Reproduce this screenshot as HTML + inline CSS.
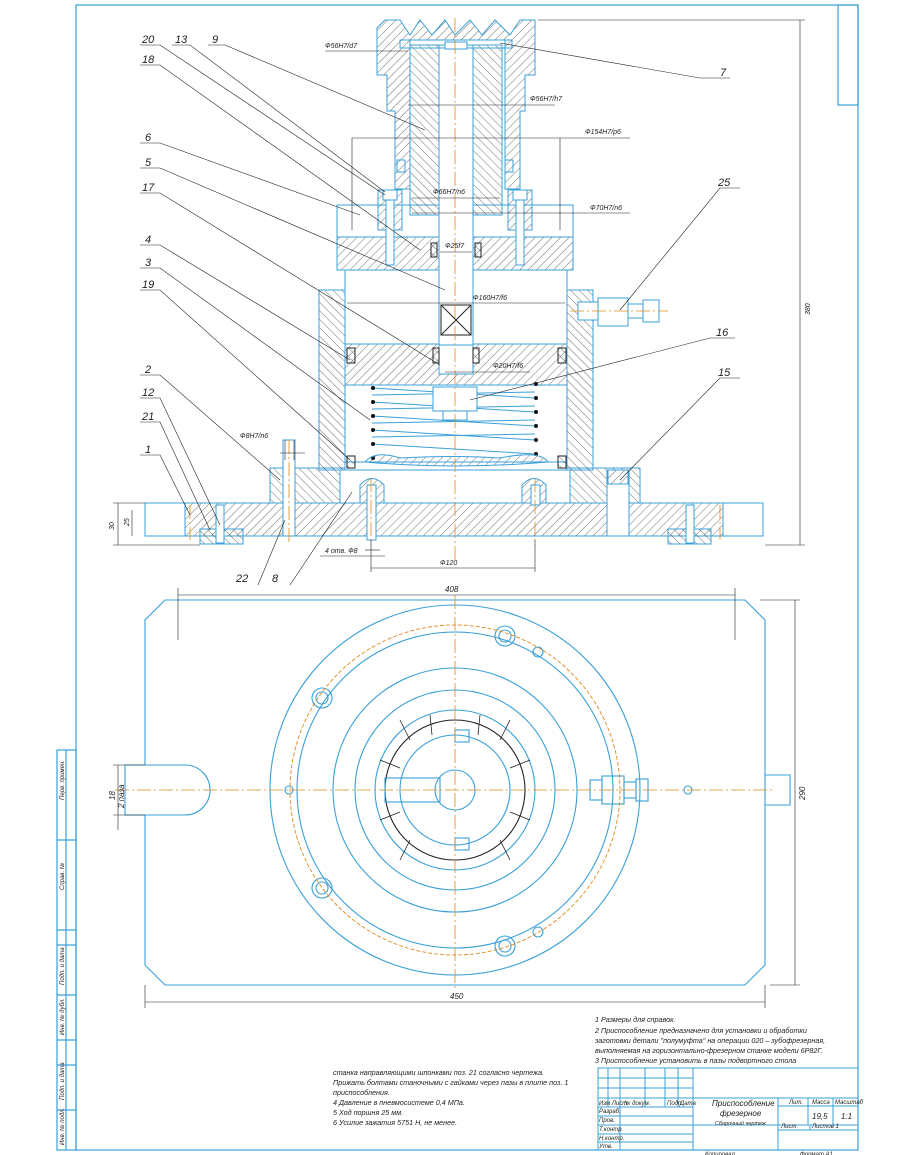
<!DOCTYPE html>
<html><head><meta charset="utf-8"><style>
html,body{margin:0;padding:0;background:#fff}
svg{display:block}
text{font-family:"Liberation Sans","DejaVu Sans",sans-serif;font-style:italic;fill:#222}
</style></head><body>
<svg width="910" height="1155" viewBox="0 0 910 1155" xmlns="http://www.w3.org/2000/svg">
<defs>
<pattern id="h" patternUnits="userSpaceOnUse" width="6" height="6" patternTransform="rotate(45)"><line x1="0" y1="0" x2="0" y2="6" stroke="#333" stroke-width="0.7"/></pattern>
<pattern id="h2" patternUnits="userSpaceOnUse" width="6" height="6" patternTransform="rotate(-45)"><line x1="0" y1="0" x2="0" y2="6" stroke="#333" stroke-width="0.7"/></pattern>
</defs>
<rect width="910" height="1155" fill="#fff"/>
<!-- frame -->
<g fill="none" stroke="#3aa0d8" stroke-width="1.2">
<rect x="76" y="5" width="782" height="1145"/>
<rect x="838" y="5" width="20" height="100"/>
<rect x="57" y="750" width="19" height="400"/>
<line x1="66" y1="750" x2="66" y2="1150"/>
<line x1="57" y1="840" x2="76" y2="840"/><line x1="57" y1="930" x2="76" y2="930"/><line x1="57" y1="945" x2="76" y2="945"/>
<line x1="57" y1="995" x2="76" y2="995"/><line x1="57" y1="1040" x2="76" y2="1040"/><line x1="57" y1="1065" x2="76" y2="1065"/><line x1="57" y1="1110" x2="76" y2="1110"/>
</g>
<g font-size="6" fill="#333"><text transform="translate(64,800) rotate(-90)">Перв. примен.</text><text transform="translate(64,890) rotate(-90)">Справ. №</text><text transform="translate(64,985) rotate(-90)">Подп. и дата</text><text transform="translate(64,1035) rotate(-90)">Инв. № дубл.</text><text transform="translate(64,1100) rotate(-90)">Подп. и дата</text><text transform="translate(64,1145) rotate(-90)">Инв. № подл.</text></g>

<!-- ===== SECTION VIEW ===== -->
<!-- base plate -->
<rect x="145" y="503" width="618" height="33" fill="url(#h)" stroke="#3aa0d8"/>
<rect x="145" y="503" width="40" height="33" fill="#fff" stroke="#3aa0d8"/>
<rect x="723" y="503" width="40" height="33" fill="#fff" stroke="#3aa0d8"/>
<rect x="200" y="529" width="43" height="15" fill="url(#h2)" stroke="#3aa0d8"/>
<rect x="668" y="529" width="43" height="15" fill="url(#h2)" stroke="#3aa0d8"/>
<rect x="216" y="505" width="8" height="38" fill="#fff" stroke="#3aa0d8"/>
<rect x="686" y="505" width="8" height="38" fill="#fff" stroke="#3aa0d8"/>
<!-- flange 2 -->
<rect x="270" y="468" width="370" height="35" fill="url(#h2)" stroke="#3aa0d8"/>
<rect x="340" y="470" width="230" height="33" fill="#fff" stroke="#3aa0d8"/>
<rect x="283" y="440" width="12" height="96" fill="#fff" stroke="#3aa0d8"/>
<rect x="607" y="470" width="22" height="66" fill="#fff" stroke="#3aa0d8"/>
<rect x="608" y="470" width="20" height="14" fill="url(#h)" stroke="#3aa0d8"/>
<!-- base lugs 8 -->
<path d="M360 503 V485 Q372 472 384 485 V503Z M522 503 V485 Q534 472 546 485 V503Z" fill="url(#h)" stroke="#3aa0d8"/>
<rect x="367" y="485" width="9" height="55" fill="#fff" stroke="#3aa0d8"/>
<rect x="531" y="485" width="9" height="20" fill="#fff" stroke="#3aa0d8"/>
<!-- body -->
<path d="M319 290 H345 V470 H319Z M567 290 H593 V470 H567Z" fill="url(#h2)" stroke="#3aa0d8"/>
<rect x="337" y="237" width="236" height="33" fill="url(#h)" stroke="#3aa0d8"/>
<rect x="345" y="270" width="222" height="200" fill="#fff" stroke="#3aa0d8"/>
<rect x="337" y="205" width="236" height="32" fill="none" stroke="#3aa0d8"/>
<!-- piston -->
<rect x="345" y="344" width="222" height="41" fill="url(#h)" stroke="#3aa0d8"/>
<rect x="439" y="344" width="34" height="30" fill="#fff" stroke="#3aa0d8"/>
<!-- spring -->
<g stroke="#3aa0d8" stroke-width="1" fill="none">
<line x1="372" y1="388" x2="535" y2="398"/><line x1="372" y1="402" x2="535" y2="412"/><line x1="372" y1="416" x2="535" y2="426"/><line x1="372" y1="430" x2="535" y2="440"/><line x1="372" y1="444" x2="535" y2="454"/>
<line x1="372" y1="395" x2="535" y2="392"/><line x1="372" y1="409" x2="535" y2="406"/><line x1="372" y1="423" x2="535" y2="420"/><line x1="372" y1="437" x2="535" y2="434"/>
</g>
<g fill="#111"><circle cx="373" cy="388" r="2"/><circle cx="373" cy="402" r="2"/><circle cx="373" cy="416" r="2"/><circle cx="373" cy="430" r="2"/><circle cx="373" cy="444" r="2"/><circle cx="373" cy="458" r="2"/>
<circle cx="536" cy="384" r="2"/><circle cx="536" cy="398" r="2"/><circle cx="536" cy="412" r="2"/><circle cx="536" cy="426" r="2"/><circle cx="536" cy="440" r="2"/><circle cx="536" cy="454" r="2"/></g>
<path d="M365 462 Q375 450 400 458 Q455 455 500 458 Q540 450 548 462 Q455 470 365 462Z" fill="url(#h)" stroke="#3aa0d8"/>
<rect x="345" y="462" width="222" height="8" fill="none" stroke="#3aa0d8"/>
<!-- nut 16 -->
<rect x="433" y="387" width="44" height="24" fill="#fff" stroke="#3aa0d8"/>
<rect x="443" y="411" width="24" height="9" fill="#fff" stroke="#3aa0d8"/>
<!-- seals -->
<g fill="url(#h2)" stroke="#222"><rect x="347" y="348" width="8" height="15"/><rect x="558" y="348" width="8" height="15"/><rect x="433" y="348" width="6" height="15"/><rect x="473" y="348" width="6" height="15"/><rect x="347" y="456" width="8" height="12"/><rect x="558" y="456" width="8" height="12"/><rect x="431" y="243" width="6" height="14"/><rect x="475" y="243" width="6" height="14"/></g>
<!-- rod -->
<rect x="439" y="45" width="34" height="300" fill="#fff" stroke="#3aa0d8"/>
<rect x="441" y="305" width="30" height="30" fill="none" stroke="#222"/>
<path d="M441 305 L471 335 M471 305 L441 335" stroke="#222"/>
<!-- chuck -->
<path d="M377 28 L385 20 L400 20 L410 35 L420 20 L432 35 L445 20 L455 35 L470 20 L482 35 L495 20 L510 35 L520 20 L535 20 L535 75 L525 75 L525 111 L520 111 L520 189 L505 189 L505 40 L410 40 L410 189 L395 189 L395 111 L387 111 L387 75 L377 75Z" fill="url(#h)" stroke="#3aa0d8"/>
<path d="M410 45 H439 V215 H410Z M473 45 H502 V215 H473Z" fill="url(#h2)" stroke="#3aa0d8"/>
<rect x="400" y="40" width="112" height="8" fill="none" stroke="#3aa0d8"/>
<rect x="445" y="42" width="22" height="7" fill="#fff" stroke="#3aa0d8"/>
<path d="M378 190 H402 V230 H378Z M508 190 H532 V230 H508Z" fill="url(#h)" stroke="#3aa0d8"/>
<rect x="383" y="190" width="14" height="10" fill="#fff" stroke="#3aa0d8"/>
<rect x="513" y="190" width="14" height="10" fill="#fff" stroke="#3aa0d8"/>
<rect x="386" y="200" width="8" height="65" fill="#fff" stroke="#3aa0d8"/>
<rect x="516" y="200" width="8" height="65" fill="#fff" stroke="#3aa0d8"/>
<rect x="397" y="160" width="8" height="12" fill="none" stroke="#3aa0d8"/><rect x="505" y="160" width="8" height="12" fill="none" stroke="#3aa0d8"/>
<!-- fitting 25 -->
<g fill="#fff" stroke="#3aa0d8"><rect x="578" y="302" width="20" height="18"/><rect x="598" y="298" width="30" height="28"/><rect x="628" y="304" width="15" height="14"/><rect x="643" y="300" width="16" height="22"/></g>
<!-- center lines -->
<g stroke="#e08a1a" stroke-width="0.8" stroke-dasharray="14 3 2 3" fill="none">
<line x1="455" y1="18" x2="455" y2="560"/><line x1="289" y1="440" x2="289" y2="545"/><line x1="371" y1="478" x2="371" y2="545"/><line x1="535" y1="478" x2="535" y2="545"/><line x1="190" y1="505" x2="190" y2="540"/><line x1="720" y1="505" x2="720" y2="540"/><line x1="570" y1="311" x2="668" y2="311"/>
</g>
<!-- dimensions -->
<g stroke="#222" stroke-width="0.6" fill="none">
<line x1="325" y1="51" x2="408" y2="51"/><line x1="408" y1="105" x2="555" y2="105"/><line x1="352" y1="138" x2="560" y2="138"/><line x1="352" y1="138" x2="352" y2="230"/><line x1="560" y1="138" x2="560" y2="230"/><line x1="560" y1="138" x2="630" y2="138"/>
<line x1="412" y1="198" x2="500" y2="198"/><line x1="412" y1="213" x2="630" y2="213"/><line x1="440" y1="252" x2="472" y2="252"/><line x1="347" y1="303" x2="565" y2="303"/><line x1="445" y1="372" x2="530" y2="372"/>
<line x1="280" y1="453" x2="305" y2="453"/><line x1="285" y1="440" x2="285" y2="460"/><line x1="294" y1="440" x2="294" y2="460"/>
<line x1="800" y1="20" x2="800" y2="545"/><line x1="538" y1="20" x2="805" y2="20"/><line x1="765" y1="545" x2="805" y2="545"/>
<line x1="118" y1="503" x2="118" y2="545"/><line x1="132" y1="510" x2="132" y2="536"/><line x1="113" y1="503" x2="145" y2="503"/><line x1="113" y1="545" x2="200" y2="545"/>
<line x1="365" y1="550" x2="380" y2="550"/><line x1="320" y1="556" x2="385" y2="556"/><line x1="371" y1="568" x2="535" y2="568"/><line x1="371" y1="540" x2="371" y2="572"/><line x1="535" y1="540" x2="535" y2="572"/>
</g>
<g font-size="7">
<text x="325" y="48">Ф56H7/d7</text><text x="530" y="101">Ф56H7/h7</text><text x="585" y="134">Ф154H7/p6</text><text x="433" y="194">Ф66H7/n6</text><text x="590" y="210">Ф70H7/n6</text><text x="445" y="248">Ф25f7</text><text x="473" y="300">Ф160H7/f6</text><text x="493" y="368">Ф20H7/f6</text><text x="240" y="438">Ф8H7/n6</text><text x="325" y="553">4 отв. Ф8</text><text x="440" y="565">Ф120</text>
<text transform="translate(810,315) rotate(-90)">380</text><text transform="translate(114,530) rotate(-90)">30</text><text transform="translate(129,526) rotate(-90)">25</text>
</g>
<!-- leaders -->
<g stroke="#222" stroke-width="0.6" fill="none">
<path d="M140 45 H160 L385 195"/><path d="M172 45 H190 L385 192"/><path d="M208 45 H225 L425 130"/><path d="M140 65 H160 L420 250"/>
<path d="M140 143 H160 L360 215"/><path d="M140 168 H160 L445 290"/><path d="M140 193 H160 L440 365"/><path d="M140 245 H160 L350 360"/><path d="M140 268 H160 L370 420"/><path d="M140 290 H160 L350 460"/>
<path d="M140 375 H160 L280 480"/><path d="M140 398 H160 L220 525"/><path d="M140 422 H160 L210 530"/><path d="M140 455 H160 L190 515"/>
<path d="M500 43 L700 78 H730"/><path d="M620 310 L720 188 H740"/><path d="M470 400 L710 338 H735"/><path d="M620 480 L720 378 H740"/>
<path d="M285 520 L258 585"/><path d="M352 492 L290 585"/>
</g>
<g font-size="11">
<text x="142" y="43">20</text><text x="175" y="43">13</text><text x="212" y="43">9</text><text x="142" y="63">18</text><text x="145" y="141">6</text><text x="145" y="166">5</text><text x="142" y="191">17</text><text x="145" y="243">4</text><text x="145" y="266">3</text><text x="142" y="288">19</text><text x="145" y="373">2</text><text x="142" y="396">12</text><text x="142" y="420">21</text><text x="145" y="453">1</text>
<text x="720" y="76">7</text><text x="718" y="186">25</text><text x="716" y="336">16</text><text x="718" y="376">15</text><text x="236" y="582">22</text><text x="272" y="582">8</text>
</g>

<!-- ===== PLAN VIEW ===== -->
<g fill="none" stroke="#3aa0d8" stroke-width="1.1">
<path d="M165 600 H745 L765 620 V965 L745 985 H165 L145 965 V815 H125 V765 H145 V620Z"/>
<path d="M765 775 H790 V805 H765"/>
<line x1="145" y1="765" x2="185" y2="765"/><line x1="145" y1="815" x2="185" y2="815"/><path d="M185 765 A25 25 0 0 1 185 815"/>
<circle cx="455" cy="790" r="185"/><circle cx="455" cy="790" r="158"/><circle cx="455" cy="790" r="122"/><circle cx="455" cy="790" r="100"/><circle cx="455" cy="790" r="80"/><circle cx="455" cy="790" r="70" stroke="#222"/><circle cx="455" cy="790" r="55"/><circle cx="455" cy="790" r="20"/>
<circle cx="322" cy="698" r="10"/><circle cx="322" cy="698" r="6"/><circle cx="322" cy="888" r="10"/><circle cx="322" cy="888" r="6"/><circle cx="505" cy="636" r="10"/><circle cx="505" cy="636" r="6"/><circle cx="505" cy="946" r="10"/><circle cx="505" cy="946" r="6"/>
<circle cx="538" cy="652" r="5"/><circle cx="538" cy="932" r="5"/><circle cx="289" cy="790" r="4"/><circle cx="688" cy="790" r="4"/>
<rect x="385" y="778" width="55" height="24"/><rect x="455" y="730" width="14" height="12"/><rect x="455" y="838" width="14" height="12"/>
<rect x="590" y="780" width="12" height="20"/><rect x="602" y="776" width="22" height="28"/><rect x="624" y="782" width="12" height="16"/><rect x="636" y="779" width="12" height="22"/>
</g>
<g stroke="#222" stroke-width="0.8" fill="none"><path d="M400 720 L410 740 M510 720 L500 740 M380 760 L400 768 M530 760 L510 768 M380 820 L400 812 M530 820 L510 812 M400 860 L410 840 M510 860 L500 840 M430 715 L432 735 M480 715 L478 735"/></g>
<circle cx="455" cy="790" r="165" fill="none" stroke="#e08a1a" stroke-width="0.9" stroke-dasharray="4 2"/>
<g stroke="#e08a1a" stroke-width="0.8" stroke-dasharray="14 3 2 3"><line x1="115" y1="790" x2="775" y2="790"/><line x1="455" y1="595" x2="455" y2="990"/></g>
<g stroke="#222" stroke-width="0.6" fill="none">
<line x1="178" y1="595" x2="735" y2="595"/><line x1="178" y1="588" x2="178" y2="640"/><line x1="735" y1="588" x2="735" y2="640"/>
<line x1="145" y1="1002" x2="765" y2="1002"/><line x1="145" y1="985" x2="145" y2="1008"/><line x1="765" y1="985" x2="765" y2="1008"/>
<line x1="795" y1="600" x2="795" y2="985"/><line x1="760" y1="600" x2="800" y2="600"/><line x1="770" y1="985" x2="800" y2="985"/>
<line x1="118" y1="765" x2="118" y2="830"/><line x1="113" y1="765" x2="145" y2="765"/><line x1="113" y1="815" x2="145" y2="815"/>
</g>
<g font-size="8"><text x="445" y="592">408</text><text x="450" y="999">450</text><text transform="translate(805,800) rotate(-90)">290</text><text transform="translate(115,800) rotate(-90)">18</text><text transform="translate(124,808) rotate(-90)">2 пазa</text></g>

<!-- notes -->
<g font-size="7.2">
<text x="595" y="1022">1 Размеры для справок.</text>
<text x="595" y="1033">2 Приспособление предназначено для установки и обработки</text>
<text x="595" y="1043">заготовки детали "полумуфта" на операции 020 – зубофрезерная,</text>
<text x="595" y="1053">выполняемая на горизонтально-фрезерном станке модели 6Р82Г.</text>
<text x="595" y="1063">3 Приспособление установить в пазы подвортного стола</text>
<text x="333" y="1075">станка направляющими шпонками поз. 21 согласно чертежа.</text>
<text x="333" y="1085">Прижать болтами станочными с гайками через пазы в плите поз. 1</text>
<text x="333" y="1095">приспособления.</text>
<text x="333" y="1105">4 Давление в пневмосистеме 0,4 МПа.</text>
<text x="333" y="1115">5 Ход поршня 25 мм.</text>
<text x="333" y="1125">6 Усилие зажатия 5751 Н, не менее.</text>
</g>
<!-- title block -->
<g fill="none" stroke="#3aa0d8" stroke-width="1">
<rect x="598" y="1068" width="260" height="82"/>
<line x1="598" y1="1078" x2="693" y2="1078"/><line x1="598" y1="1088" x2="693" y2="1088"/><line x1="598" y1="1098" x2="858" y2="1098"/><line x1="598" y1="1107" x2="693" y2="1107"/><line x1="598" y1="1116" x2="693" y2="1116"/><line x1="598" y1="1125" x2="858" y2="1125"/><line x1="598" y1="1134" x2="693" y2="1134"/><line x1="598" y1="1142" x2="693" y2="1142"/>
<line x1="608" y1="1068" x2="608" y2="1107"/><line x1="620" y1="1068" x2="620" y2="1150"/><line x1="645" y1="1068" x2="645" y2="1107"/><line x1="665" y1="1068" x2="665" y2="1107"/><line x1="678" y1="1068" x2="678" y2="1107"/><line x1="693" y1="1068" x2="693" y2="1150"/>
<line x1="778" y1="1098" x2="778" y2="1150"/><line x1="778" y1="1106" x2="858" y2="1106"/><line x1="808" y1="1098" x2="808" y2="1125"/><line x1="833" y1="1098" x2="833" y2="1125"/><line x1="810" y1="1125" x2="810" y2="1130"/><line x1="778" y1="1130" x2="858" y2="1130"/>
</g>
<g font-size="6"><text x="599" y="1105">Изм Лист</text><text x="624" y="1105">№ докум.</text><text x="667" y="1105">Подп.</text><text x="680" y="1105">Дата</text><text x="599" y="1113">Разраб.</text><text x="599" y="1122">Пров.</text><text x="599" y="1131">Т.контр.</text><text x="599" y="1140">Н.контр.</text><text x="599" y="1148">Утв.</text>
<text x="789" y="1104">Лит.</text><text x="812" y="1104">Масса</text><text x="835" y="1104">Масштаб</text><text x="781" y="1128">Лист</text><text x="812" y="1128">Листов 1</text><text x="705" y="1156">Копировал</text><text x="800" y="1156">Формат A1</text></g>
<g font-size="8"><text x="812" y="1119">19,5</text><text x="841" y="1119">1:1</text><text x="712" y="1106">Приспособление</text><text x="720" y="1116">фрезерное</text></g>
<text x="715" y="1125" font-size="5.5">Сборочный чертеж</text>
</svg>
</body></html>
